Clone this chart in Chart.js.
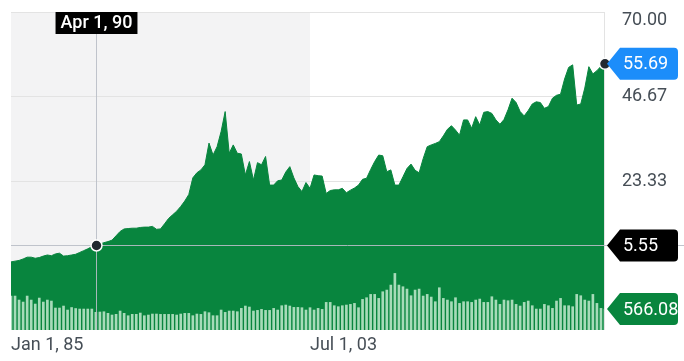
<!DOCTYPE html>
<html>
<head>
<meta charset="utf-8">
<script src="https://cdn.jsdelivr.net/npm/chart.js@4"></script>
<style>
  html, body { margin: 0; padding: 0; background: #fff; }
  #wrap { width: 684px; height: 361px; }
</style>
</head>
<body>
<div id="wrap"><canvas id="chart" width="684" height="361"></canvas></div>
<script>
// quarterly closes, Jan 1985 onwards
const prices = [
  1.0, 1.2, 1.4, 1.8, 2.3, 2.3, 2.0, 2.2, 2.6, 2.9,
  2.7, 3.2, 3.4, 2.6, 2.7, 2.9, 3.1, 3.6, 4.1, 4.6,
  5.2, 5.55, 5.9, 6.3, 6.6, 7.0, 8.2, 9.4, 10.1, 10.2,
  10.3, 10.3, 10.5, 10.6, 10.6, 10.8, 10.0, 10.1, 11.5, 13.0,
  14.0, 15.0, 16.3, 17.8, 19.6, 24.2, 25.6, 26.4, 27.8, 33.8,
  30.5, 32.8, 37.0, 42.5, 31.0, 33.3, 31.0, 30.8, 25.0, 28.7,
  23.6, 28.4, 27.8, 30.1, 22.2, 22.2, 23.4, 23.6, 25.8, 27.3,
  24.2, 21.8, 20.4, 22.9, 21.3, 25.0, 24.8, 24.7, 19.9, 20.7,
  20.9, 20.9, 21.3, 20.1, 20.8, 21.4, 22.2, 23.8, 24.1, 26.5,
  28.7, 30.5, 30.3, 25.9, 26.4, 22.2, 22.2, 24.5, 26.8, 28.0,
  26.3, 25.6, 29.5, 32.8, 33.3, 33.7, 34.2, 35.8, 37.6, 38.6,
  37.4, 36.0, 40.2, 40.2, 37.9, 41.1, 38.8, 42.3, 42.5, 42.0,
  40.2, 39.0, 40.3, 43.0, 46.2, 45.0, 42.5, 41.3, 42.8, 44.6,
  45.2, 45.0, 43.4, 43.9, 46.2, 47.0, 47.3, 51.5, 54.7, 55.4,
  44.3, 44.6, 49.0, 54.9, 52.9, 53.8, 55.0, 55.69
]

const volumes = [
  918, 918, 810, 756, 918, 810, 702, 864, 756, 810,
  783, 594, 594, 648, 540, 608, 581, 567, 567, 567,
  567, 478, 486, 494, 451, 405, 424, 513, 451, 386,
  424, 424, 459, 386, 405, 432, 432, 423, 423, 423,
  423, 405, 432, 450, 450, 387, 432, 423, 495, 468,
  387, 387, 540, 477, 513, 513, 495, 585, 648, 621,
  513, 531, 558, 531, 531, 585, 540, 657, 675, 648,
  612, 612, 603, 540, 603, 540, 585, 558, 747, 747,
  657, 630, 657, 675, 693, 720, 603, 828, 873, 963,
  963, 855, 1035, 1080, 1215, 1530, 1215, 1170, 1107, 927,
  1080, 1107, 918, 963, 891, 765, 1143, 855, 810, 765,
  873, 720, 765, 765, 747, 810, 837, 747, 747, 900,
  810, 693, 810, 792, 810, 693, 648, 747, 783, 657,
  567, 567, 693, 657, 585, 783, 855, 657, 657, 630,
  963, 927, 810, 783, 963, 720, 585, 566.08
]

const xTickIndex = [0, 74]
const xTickLabels = ["Jan 1, 85", "Jul 1, 03"]
const yTicks = [0, 23.33, 46.67, 70]
const yTickLabels = ["0.00", "23.33", "46.67", "70.00"]

const hoverIndex = 21
const hoverLabel = "Apr 1, 90"
const hoverPrice = 5.55
const lastPrice = 55.69
const lastVolume = 566.08

const GREEN = "#08853e"
const TEXT = "#464e56"
const FONT = "Roboto, 'Liberation Sans', sans-serif"

function tag(ctx, y, text, color) {
  const tip = 607, x0 = 620, x1 = 678, h = 32, r = 4
  const top = y - h / 2, bot = y + h / 2
  ctx.save()
  ctx.fillStyle = color
  ctx.beginPath()
  ctx.moveTo(tip, y)
  ctx.lineTo(x0, top)
  ctx.lineTo(x1 - r, top)
  ctx.arcTo(x1, top, x1, top + r, r)
  ctx.lineTo(x1, bot - r)
  ctx.arcTo(x1, bot, x1 - r, bot, r)
  ctx.lineTo(x0, bot)
  ctx.closePath()
  ctx.fill()
  ctx.fillStyle = "#fff"
  ctx.font = "18px " + FONT
  ctx.textAlign = "left"
  ctx.textBaseline = "middle"
  ctx.fillText(text, 623, y + 1)
  ctx.restore()
}

function dot(ctx, x, y) {
  ctx.save()
  ctx.beginPath()
  ctx.arc(x, y, 5.5, 0, Math.PI * 2)
  ctx.fillStyle = "#232a31"
  ctx.fill()
  ctx.lineWidth = 1.5
  ctx.strokeStyle = "#fff"
  ctx.stroke()
  ctx.restore()
}

// grey band up to the Jul 03 tick
const bandPlugin = {
  id: "band",
  beforeDraw(chart) {
    const { ctx, chartArea, scales } = chart
    const xEnd = scales.x.getPixelForValue(xTickIndex[1])
    ctx.save()
    ctx.fillStyle = "#f3f3f4"
    ctx.fillRect(chartArea.left, chartArea.top, xEnd - chartArea.left, chartArea.bottom - chartArea.top)
    ctx.restore()
  }
}

const overlayPlugin = {
  id: "overlay",
  afterDraw(chart) {
    const { ctx, chartArea, scales } = chart
    const x = scales.x, y = scales.y, yv = scales.yv

    // right edge line
    ctx.save()
    ctx.strokeStyle = "#e3e3e3"
    ctx.lineWidth = 1
    ctx.beginPath()
    ctx.moveTo(chartArea.right - 0.5, chartArea.top)
    ctx.lineTo(chartArea.right - 0.5, chartArea.bottom)
    ctx.stroke()
    ctx.restore()

    // axis labels
    ctx.save()
    ctx.font = "18px " + FONT
    ctx.fillStyle = TEXT
    ctx.textAlign = "left"
    ctx.textBaseline = "middle"
    yTicks.forEach((v, i) => {
      if (v === 0) return
      const py = Math.max(y.getPixelForValue(v), chartArea.top + 8)
      ctx.fillText(yTickLabels[i], 622, py)
    })
    xTickIndex.forEach((v, i) => {
      ctx.fillText(xTickLabels[i], x.getPixelForValue(v), chartArea.bottom + 15)
    })
    ctx.restore()

    // crosshair
    const hx = Math.round(x.getPixelForValue(hoverIndex)) + 0.5
    const hy = Math.round(y.getPixelForValue(hoverPrice)) + 0.5
    ctx.save()
    ctx.strokeStyle = "rgba(185,190,198,0.9)"
    ctx.lineWidth = 1
    ctx.beginPath()
    ctx.moveTo(hx, 33)
    ctx.lineTo(hx, chartArea.bottom)
    ctx.moveTo(chartArea.left, hy)
    ctx.lineTo(chart.width, hy)
    ctx.stroke()
    ctx.restore()

    // date tag
    ctx.save()
    ctx.font = "500 18px " + FONT
    const tw = ctx.measureText(hoverLabel).width
    ctx.fillStyle = "#000"
    ctx.fillRect(hx - tw / 2 - 5, 12, tw + 10, 22)
    ctx.fillStyle = "#fff"
    ctx.textAlign = "center"
    ctx.textBaseline = "middle"
    ctx.fillText(hoverLabel, hx, 23.5)
    ctx.restore()

    dot(ctx, hx, hy)
    dot(ctx, x.getPixelForValue(prices.length - 1), y.getPixelForValue(lastPrice))

    tag(ctx, y.getPixelForValue(lastPrice), lastPrice.toFixed(2), "#1c8dfa")
    tag(ctx, hy, hoverPrice.toFixed(2), "#000")
    tag(ctx, yv.getPixelForValue(lastVolume), lastVolume.toFixed(2), GREEN)
  }
}

new Chart(document.getElementById("chart"), {
  type: "line",
  data: {
    datasets: [
      {
        type: "bar",
        data: volumes.map((v, i) => ({ x: i, y: v })),
        yAxisID: "yv",
        backgroundColor: "#a7dbb9",
        barThickness: 2,
        order: 0
      },
      {
        type: "line",
        data: prices.map((v, i) => ({ x: i, y: v })),
        yAxisID: "y",
        borderColor: GREEN,
        borderWidth: 1,
        backgroundColor: GREEN,
        fill: "start",
        pointRadius: 0,
        tension: 0,
        order: 1
      }
    ]
  },
  options: {
    responsive: false,
    devicePixelRatio: 1,
    animation: false,
    layout: { padding: { left: 11, top: 12, right: 79, bottom: 31 } },
    plugins: { legend: { display: false }, tooltip: { enabled: false } },
    scales: {
      x: {
        type: "linear",
        offset: false,
        min: 0,
        max: prices.length - 1,
        grid: { display: false, offset: false, drawTicks: false },
        border: { display: false },
        ticks: { display: false }
      },
      y: {
        position: "right",
        min: -17.81,
        max: 70,
        afterBuildTicks: (axis) => { axis.ticks = yTicks.map((v) => ({ value: v })) },
        grid: { color: "#e3e3e3", drawTicks: false },
        border: { display: false },
        ticks: { display: false }
      },
      yv: {
        display: false,
        min: 0,
        max: 8600
      }
    }
  },
  plugins: [bandPlugin, overlayPlugin]
})
</script>
</body>
</html>
